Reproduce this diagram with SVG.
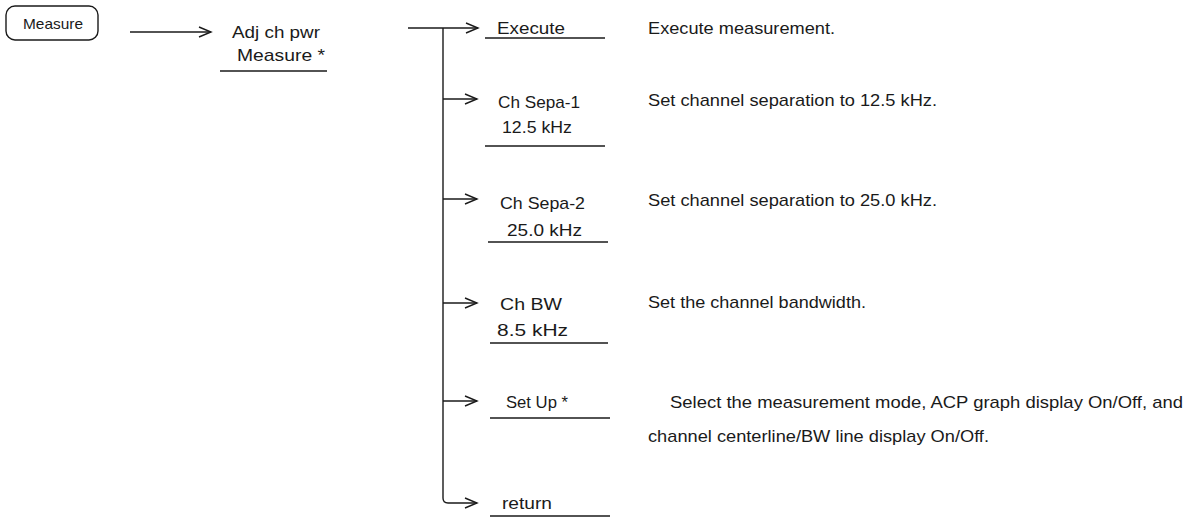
<svg xmlns="http://www.w3.org/2000/svg" width="1193" height="518" viewBox="0 0 1193 518">
<style>
text{font-family:"Liberation Sans",Arial,sans-serif;fill:#1a1a1a;font-size:17px}
.key{font-size:15px}
.ln{stroke:#1a1a1a;stroke-width:1.4;fill:none}
.ul{stroke:#1a1a1a;stroke-width:1.4}
</style>
<defs>
<marker id="ah" markerUnits="userSpaceOnUse" markerWidth="16" markerHeight="14" refX="13" refY="6" orient="auto">
<path d="M1,1 L13,6 L1,11" fill="none" stroke="#1a1a1a" stroke-width="1.4"/>
</marker>
</defs>
<rect width="1193" height="518" fill="#fff"/>
<g id="connectors">
<line class="ln" x1="130" y1="32" x2="211" y2="32" marker-end="url(#ah)"/>
<line class="ln" x1="408" y1="28" x2="478" y2="28" marker-end="url(#ah)"/>
<path class="ln" d="M443,28 V498 Q443,503 448,503 H477" marker-end="url(#ah)"/>
<line class="ln" x1="443" y1="99" x2="477" y2="99" marker-end="url(#ah)"/>
<line class="ln" x1="443" y1="199" x2="477" y2="199" marker-end="url(#ah)"/>
<line class="ln" x1="443" y1="303" x2="477" y2="303" marker-end="url(#ah)"/>
<line class="ln" x1="443" y1="401" x2="477" y2="401" marker-end="url(#ah)"/>
</g>
<g id="measure-key">
<rect x="6" y="6" width="92" height="34" rx="9" fill="none" stroke="#1a1a1a" stroke-width="1.4"/>
<text class="key" x="23" y="29" textLength="60" lengthAdjust="spacingAndGlyphs">Measure</text>
</g>
<g id="adj-ch-pwr">
<text x="232" y="38" textLength="88" lengthAdjust="spacingAndGlyphs">Adj ch pwr</text>
<text x="237" y="61" textLength="88" lengthAdjust="spacingAndGlyphs">Measure *</text>
<line class="ul" x1="220" y1="71" x2="327" y2="71"/>
</g>
<g id="execute">
<text x="497" y="34" textLength="68" lengthAdjust="spacingAndGlyphs">Execute</text>
<line class="ul" x1="485" y1="38" x2="605" y2="38"/>
<text x="648" y="34" textLength="187" lengthAdjust="spacingAndGlyphs">Execute measurement.</text>
</g>
<g id="ch-sepa-1">
<text x="498" y="108" textLength="82" lengthAdjust="spacingAndGlyphs">Ch Sepa-1</text>
<text x="502" y="133" textLength="70" lengthAdjust="spacingAndGlyphs">12.5 kHz</text>
<line class="ul" x1="485" y1="146" x2="605" y2="146"/>
<text x="648" y="106" textLength="289" lengthAdjust="spacingAndGlyphs">Set channel separation to 12.5 kHz.</text>
</g>
<g id="ch-sepa-2">
<text x="500" y="209" textLength="85" lengthAdjust="spacingAndGlyphs">Ch Sepa-2</text>
<text x="507" y="236" textLength="75" lengthAdjust="spacingAndGlyphs">25.0 kHz</text>
<line class="ul" x1="488" y1="242" x2="608" y2="242"/>
<text x="648" y="206" textLength="289" lengthAdjust="spacingAndGlyphs">Set channel separation to 25.0 kHz.</text>
</g>
<g id="ch-bw">
<text x="500" y="310" textLength="62" lengthAdjust="spacingAndGlyphs">Ch BW</text>
<text x="497" y="336" textLength="71" lengthAdjust="spacingAndGlyphs">8.5 kHz</text>
<line class="ul" x1="490" y1="343" x2="608" y2="343"/>
<text x="648" y="308" textLength="218" lengthAdjust="spacingAndGlyphs">Set the channel bandwidth.</text>
</g>
<g id="set-up">
<text x="506" y="408" textLength="62" lengthAdjust="spacingAndGlyphs">Set Up *</text>
<line class="ul" x1="490" y1="418" x2="610" y2="418"/>
<text x="670" y="408" textLength="513" lengthAdjust="spacingAndGlyphs">Select the measurement mode, ACP graph display On/Off, and</text>
<text x="648" y="442" textLength="341" lengthAdjust="spacingAndGlyphs">channel centerline/BW line display On/Off.</text>
</g>
<g id="return">
<text x="502" y="509" textLength="50" lengthAdjust="spacingAndGlyphs">return</text>
<line class="ul" x1="490" y1="516" x2="610" y2="516"/>
</g>
</svg>
